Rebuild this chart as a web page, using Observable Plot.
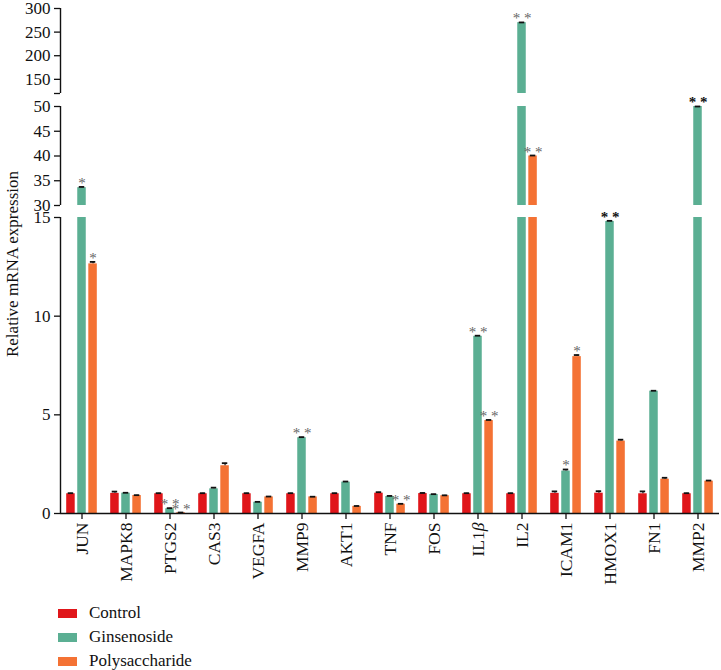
<!DOCTYPE html>
<html>
<head>
<meta charset="utf-8">
<script src="https://cdn.jsdelivr.net/npm/d3@7"></script>
<script src="https://cdn.jsdelivr.net/npm/@observablehq/plot@0.6"></script>
<style>
  body { margin: 0; background: #fff; font-family: "Liberation Serif", "DejaVu Serif", serif; }
  #legend { margin-left: 58px; padding-top: 9px; }
  .row { display: flex; align-items: center; height: 24px; font-size: 17px; color: #111; }
  .sw { width: 19px; height: 9px; margin-right: 12px; }
</style>
</head>
<body>
<div id="chart"></div>
<div id="legend"></div>
<script>
const genes = ["JUN","MAPK8","PTGS2","CAS3","VEGFA","MMP9","AKT1","TNF","FOS","IL1β","IL2","ICAM1","HMOX1","FN1","MMP2"];
const series = ["Control","Ginsenoside","Polysaccharide"];
const control        = [1.0, 1.02, 1.0, 1.0, 1.0, 1.0, 1.0, 1.03, 1.01, 1.0, 1.0, 1.02, 1.03, 1.0, 1.0];
const controlErr     = [0.03, 0.09, 0.03, 0.03, 0.03, 0.03, 0.03, 0.05, 0.03, 0.03, 0.03, 0.1, 0.1, 0.12, 0.03];
const ginsenoside    = [33.6, 1.03, 0.24, 1.25, 0.57, 3.84, 1.59, 0.86, 0.96, 8.98, 270, 2.15, 14.8, 6.2, 50];
const ginsenosideErr = [0.15, 0.02, 0.03, 0.06, 0.02, 0.03, 0.03, 0.03, 0.02, 0.03, 0.5, 0.08, 0.03, 0.02, 0.1];
const polysaccharide = [12.65, 0.91, 0.04, 2.42, 0.84, 0.84, 0.36, 0.47, 0.9, 4.71, 40.0, 7.95, 3.67, 1.74, 1.64];
const polysaccharideErr = [0.1, 0.02, 0.01, 0.13, 0.02, 0.01, 0.02, 0.02, 0.02, 0.03, 0.1, 0.08, 0.07, 0.07, 0.03];
const controlStars        = ["","","","","","","","","","","","","","",""];
const ginsenosideStars    = ["*","","**","","","**","","","","**","**","*","**","","**"];
const polysaccharideStars = ["*","","**","","","","","**","","**","**","*","","",""];
const darkStarGenes = ["HMOX1","MMP2"];
// broken y axis segments
const segLo = [0, 30, 120];
const segHi = [15, 50, 300];
const yTicks = [0, 5, 10, 15, 30, 35, 40, 45, 50, 120, 150, 200, 250, 300];

const colors = ["#e0161a", "#5baf93", "#f47234"];
const values = [control, ginsenoside, polysaccharide];
const errs = [controlErr, ginsenosideErr, polysaccharideErr];
const stars = [controlStars, ginsenosideStars, polysaccharideStars];

const W = 721, H = 592, mL = 60, mR = 2, mT = 8, mB = 79;
// broken axis: map data values to display units (pixels above the baseline)
const T = d3.scaleLinear().domain([0, 15, 30, 50, 120, 300]).range([0, 296, 308, 407, 420, 505]);
const pIn = 0.25, pOut = 0.08;
const step = (W - mL - mR) / (genes.length - pIn + 2 * pOut);
const bw = step * (1 - pIn);
const third = bw / 3;

const rows = [];
genes.forEach((g, j) => series.forEach((s, i) => {
  rows.push({gene: g, s: i, v: values[i][j], e: errs[i][j], star: stars[i][j]});
}));
const pieces = [];
rows.forEach(r => segLo.forEach((lo, k) => {
  if (r.v > lo) pieces.push({gene: r.gene, s: r.s, y1: lo, y2: Math.min(r.v, segHi[k])});
}));
const segs = segLo.map((lo, k) => ({lo, hi: segHi[k]}));

const marks = [];
series.forEach((s, i) => {
  marks.push(Plot.barY(pieces.filter(p => p.s === i), {
    x: "gene", y1: d => T(d.y1), y2: d => T(d.y2), fill: colors[i],
    insetLeft: i * third + 1.2, insetRight: (2 - i) * third + 1.2
  }));
  const rs = rows.filter(r => r.s === i);
  marks.push(Plot.ruleX(rs, {x: "gene", y1: d => T(d.v), y2: d => T(d.v + d.e), dx: (i - 1) * third, stroke: "#111", strokeWidth: 1.2}));
  marks.push(Plot.tickY(rs, {x: "gene", y: d => T(d.v + d.e), stroke: "#111", strokeWidth: 1.8,
    insetLeft: (i + 0.5) * third - 2.8, insetRight: bw - (i + 0.5) * third - 2.8}));
  const starOpts = {x: "gene", y: d => T(d.v + d.e), text: d => d.star.split("").join(" "),
    dx: (i - 1) * third, dy: 1, lineAnchor: "bottom", fontSize: 15};
  marks.push(Plot.text(rs.filter(r => r.star && !darkStarGenes.includes(r.gene)), {...starOpts, fill: "#666"}));
  marks.push(Plot.text(rs.filter(r => r.star && darkStarGenes.includes(r.gene)), {...starOpts, fill: "#111", fontWeight: "bold"}));
});

const chart = Plot.plot({
  width: W, height: H, marginLeft: mL, marginRight: mR, marginTop: mT, marginBottom: mB,
  style: {fontFamily: "'Liberation Serif', serif", fontSize: "17px", color: "#111", background: "#fff", overflow: "visible"},
  x: {domain: genes, paddingInner: pIn, paddingOuter: pOut, label: null},
  y: {domain: [0, T(300)], label: null},
  marks: [
    ...marks,
    Plot.ruleY([0], {stroke: "#111", strokeWidth: 1.4}),
    Plot.ruleX(segs, {x: null, y1: d => T(d.lo), y2: d => T(d.hi), dx: mL - (mL + W - mR) / 2, stroke: "#111", strokeWidth: 1.4}),
    Plot.axisY({ticks: yTicks.map(T), tickFormat: t => { const v = Math.round(T.invert(t)); return v === 120 ? "" : String(v); },
      tickSize: 6, tickPadding: 4, fontSize: 17, label: null, strokeWidth: 1.3}),
    Plot.axisX({tickRotate: -90, tickSize: 6, tickPadding: 3, fontSize: 17.5, label: null, strokeWidth: 1.3}),
    Plot.text(["Relative mRNA expression"], {frameAnchor: "left", textAnchor: "middle", rotate: -90, dx: -48, dy: 3, fontSize: 17, fill: "#111"})
  ]
});
d3.select(chart).selectAll("text").each(function() {
  if (this.textContent === "IL1β") this.innerHTML = "IL1<tspan font-style='italic'>β</tspan>";
});
document.getElementById("chart").appendChild(chart);

const leg = d3.select("#legend");
series.forEach((s, i) => {
  const r = leg.append("div").attr("class", "row");
  r.append("div").attr("class", "sw").style("background", colors[i]);
  r.append("span").text(s);
});
</script>
</body>
</html>
